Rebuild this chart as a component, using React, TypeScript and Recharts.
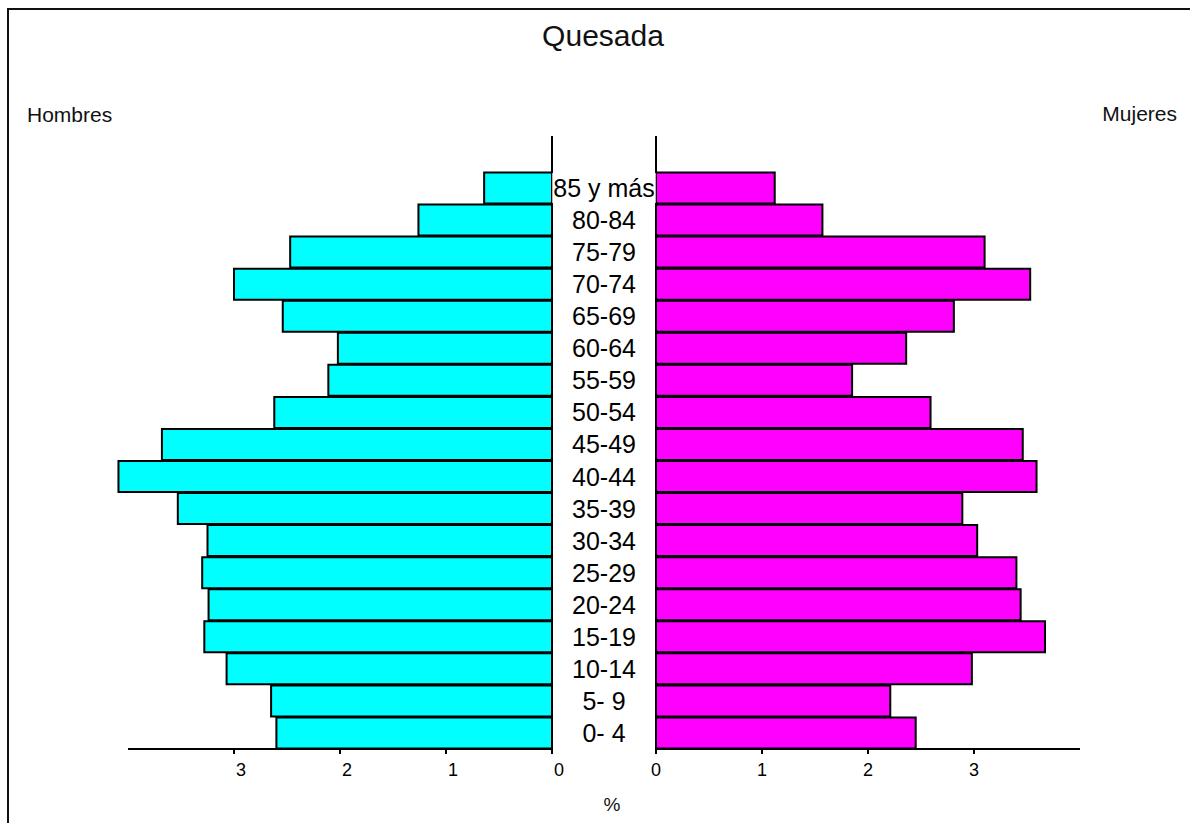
import React from 'react';
import { BarChart, Bar, XAxis, YAxis } from 'recharts';

const ageGroups = [
  '0- 4', '5- 9', '10-14', '15-19', '20-24', '25-29', '30-34', '35-39', '40-44',
  '45-49', '50-54', '55-59', '60-64', '65-69', '70-74', '75-79', '80-84', '85 y más',
];
const hombres = [2.6, 2.65, 3.07, 3.28, 3.24, 3.3, 3.25, 3.53, 4.09, 3.68, 2.62, 2.11, 2.02, 2.54, 3.0, 2.47, 1.26, 0.64];
const mujeres = [2.45, 2.21, 2.98, 3.67, 3.44, 3.4, 3.03, 2.89, 3.59, 3.46, 2.59, 1.85, 2.36, 2.81, 3.53, 3.1, 1.57, 1.12];
const pctTicks = [0, 1, 2, 3];

const FONT = '"Liberation Sans", Arial, sans-serif';
const PX_PER_UNIT = 106; // same scale on both halves
const AXIS_MAX = 4;
const LEFT_MAX = 4.1; // one male bar goes a little past 4
const CENTER_GAP = 104; // distance between the two zero lines
const Y_AXIS_W = 1;

const rows = ageGroups.map((g, i) => ({ grupo: g, hombres: hombres[i], mujeres: mujeres[i] }));

let ctx: CanvasRenderingContext2D | null = null;
const textWidth = (t: string, size: number) => {
  if (!ctx) ctx = document.createElement('canvas').getContext('2d');
  if (!ctx) return t.length * size * 0.5;
  ctx.font = `${size}px ${FONT}`;
  return ctx.measureText(t).width;
};

const PctTick = (props: any) => {
  const { x, y, payload, shift = 0 } = props;
  return (
    <text x={x + shift} y={y} dy="0.71em" textAnchor="middle" fontSize={18} fontFamily={FONT} fill="#000">
      {payload.value}
    </text>
  );
};

const GroupTick = (props: any) => {
  const { x, y, payload } = props;
  const cx = x - CENTER_GAP / 2;
  const w = textWidth(payload.value, 25) + 2;
  return (
    <g>
      <rect x={cx - w / 2} y={y - 15} width={w} height={30} fill="#fff" />
      <text x={cx} y={y} dy="0.36em" textAnchor="middle" fontSize={25} fontFamily={FONT} fill="#000">
        {payload.value}
      </text>
    </g>
  );
};

export default function App() {
  const leftPlotRight = 552;
  const leftMargin = leftPlotRight - LEFT_MAX * PX_PER_UNIT;
  const hiddenAxis = (LEFT_MAX - AXIS_MAX) * PX_PER_UNIT;
  const rightZero = leftPlotRight + CENTER_GAP;
  const rightLeft = 500;

  return (
    <div style={{ position: 'absolute', left: 0, top: 0, width: 1190, height: 823, overflow: 'hidden', background: '#fff' }}>
      {/* frame */}
      <div style={{ position: 'absolute', left: 7, top: 8, width: 1400, height: 1000, borderLeft: '2px solid #111', borderTop: '2px solid #111' }} />

      <div style={{ position: 'absolute', left: 0, top: 0 }}>
        <BarChart
          width={600}
          height={823}
          data={rows}
          layout="vertical"
          margin={{ top: 136, right: 600 - leftPlotRight - Y_AXIS_W, bottom: 44, left: leftMargin }}
          barCategoryGap={0.5}
        >
          <XAxis
            type="number"
            domain={[0, LEFT_MAX]}
            reversed
            ticks={pctTicks}
            interval={0}
            height={30}
            tickSize={5}
            tickMargin={9}
            axisLine={{ stroke: '#000', strokeWidth: 2, strokeDasharray: `0 ${hiddenAxis} 2000` }}
            tickLine={{ stroke: '#000', strokeWidth: 2 }}
            tick={<PctTick shift={7} />}
          />
          <YAxis
            type="category"
            dataKey="grupo"
            orientation="right"
            reversed
            width={Y_AXIS_W}
            padding={{ top: 36, bottom: 0 }}
            tick={false}
            tickLine={false}
            axisLine={{ stroke: '#000', strokeWidth: 2 }}
          />
          <Bar dataKey="hombres" fill="#00FFFF" stroke="#000" strokeWidth={2} isAnimationActive={false} />
        </BarChart>
      </div>

      <div style={{ position: 'absolute', left: rightLeft, top: 0 }}>
        <BarChart
          width={1190 - rightLeft}
          height={823}
          data={rows}
          layout="vertical"
          margin={{
            top: 136,
            right: 1190 - (rightZero + AXIS_MAX * PX_PER_UNIT),
            bottom: 44,
            left: rightZero - rightLeft - Y_AXIS_W,
          }}
          barCategoryGap={0.5}
        >
          <XAxis
            type="number"
            domain={[0, AXIS_MAX]}
            ticks={pctTicks}
            interval={0}
            height={30}
            tickSize={5}
            tickMargin={9}
            axisLine={{ stroke: '#000', strokeWidth: 2 }}
            tickLine={{ stroke: '#000', strokeWidth: 2 }}
            tick={<PctTick />}
          />
          <YAxis
            type="category"
            dataKey="grupo"
            orientation="left"
            reversed
            width={Y_AXIS_W}
            padding={{ top: 36, bottom: 0 }}
            interval={0}
            tickSize={0}
            tickMargin={0}
            tickLine={false}
            axisLine={{ stroke: '#000', strokeWidth: 2 }}
            tick={<GroupTick />}
          />
          <Bar dataKey="mujeres" fill="#FF00FF" stroke="#000" strokeWidth={2} isAnimationActive={false} />
        </BarChart>
      </div>

      <svg width={1190} height={823} style={{ position: 'absolute', left: 0, top: 0, pointerEvents: 'none' }}>
        <text x={603} y={46} textAnchor="middle" fontSize={30} fontFamily={FONT} fill="#111">Quesada</text>
        <text x={27} y={122} fontSize={21} fontFamily={FONT} fill="#111">Hombres</text>
        <text x={1177} y={121} textAnchor="end" fontSize={21} fontFamily={FONT} fill="#111">Mujeres</text>
        <text x={612} y={811} textAnchor="middle" fontSize={19} fontFamily={FONT} fill="#111">%</text>
      </svg>
    </div>
  );
}
